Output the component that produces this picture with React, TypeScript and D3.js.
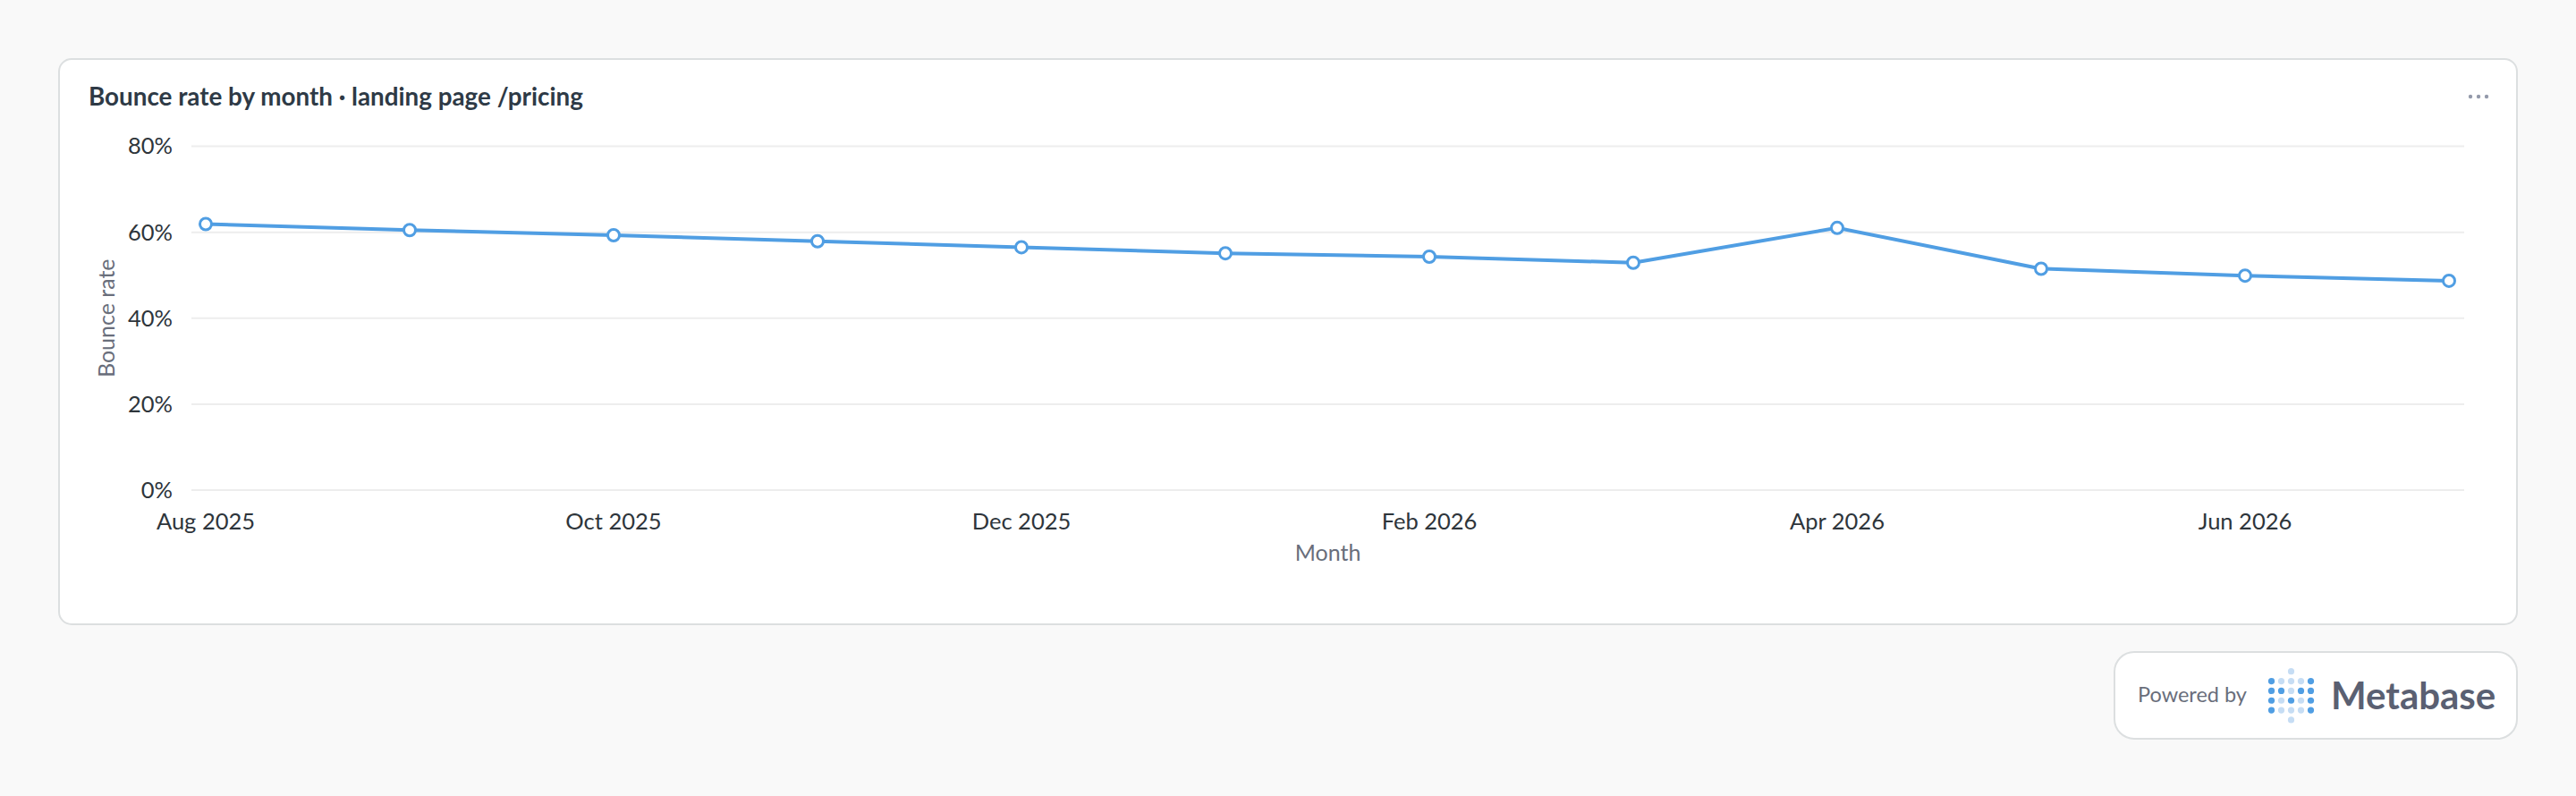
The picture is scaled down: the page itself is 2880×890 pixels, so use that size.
import React from 'react';
import * as d3 from 'd3';

// monthly bounce rate for the /pricing landing page
const months = [
  '2025-08', '2025-09', '2025-10', '2025-11', '2025-12', '2026-01',
  '2026-02', '2026-03', '2026-04', '2026-05', '2026-06', '2026-07',
];
const bounceRate = [0.619, 0.605, 0.593, 0.579, 0.565, 0.551, 0.543, 0.529, 0.61, 0.515, 0.499, 0.487];
const yTicks = [0, 0.2, 0.4, 0.6, 0.8];
const xTickMonths = ['2025-08', '2025-10', '2025-12', '2026-02', '2026-04', '2026-06'];

const title = 'Bounce rate by month · landing page /pricing';
const yLabel = 'Bounce rate';
const xLabel = 'Month';

const BLUE = '#509ee3';
const LIGHT_BLUE = '#c6ddf4';

// Metabase logo dot pattern: 1 = dark, 0 = light, -1 = empty
const logoDots = [
  [-1, -1, 0, -1, -1],
  [1, 0, 0, 0, 1],
  [1, 1, 0, 1, 1],
  [1, 0, 1, 0, 1],
  [1, 0, 0, 0, 1],
  [-1, -1, 0, -1, -1],
];

const parseMonth = d3.timeParse('%Y-%m');
const fmtMonth = d3.timeFormat('%b %Y');

export default function App() {
  const W = 2880;
  const H = 890;
  const plot = { left: 214, right: 2755, top: 163.5, bottom: 548 };

  const x = d3.scalePoint<string>().domain(months).range([230, 2738]);
  const y = d3.scaleLinear().domain([0, 0.8]).range([plot.bottom, plot.top]);
  const pct = d3.format('.0%');

  const line = d3.line<number>()
    .x((_, i) => x(months[i])!)
    .y(d => y(d));

  const font = 'Lato, "Noto Sans", sans-serif';

  return (
    <div style={{ position: 'absolute', left: 0, top: 0, width: W, height: H }}>
      <svg width={W} height={H} style={{ display: 'block', fontFamily: font }}>
        <rect x={0} y={0} width={W} height={H} fill="#f9f9f9" />

        {/* card */}
        <rect x={66} y={66} width={2748} height={632} rx={14} fill="#fff" stroke="#dcdfe0" strokeWidth={2} />
        <text x={99} y={118} fontSize={27.8} fontWeight={700} fill="#2e3a46">{title}</text>
        {[2762, 2771, 2780].map(cx => (
          <circle key={cx} cx={cx} cy={108} r={2.2} fill="#949aab" />
        ))}

        {/* grid + y ticks */}
        {yTicks.map(t => (
          <g key={t}>
            <line x1={plot.left} x2={plot.right} y1={y(t)} y2={y(t)} stroke="#ededed" strokeWidth={2} />
            <text x={193} y={y(t)} dy="0.35em" textAnchor="end" fontSize={25.5} fill="#2e353b">{pct(t)}</text>
          </g>
        ))}

        {/* x ticks */}
        {xTickMonths.map(m => (
          <text key={m} x={x(m)} y={592} textAnchor="middle" fontSize={25.5} fill="#2e353b">
            {fmtMonth(parseMonth(m)!)}
          </text>
        ))}

        {/* axis titles */}
        <text
          transform={`translate(128,${(plot.top + plot.bottom) / 2}) rotate(-90)`}
          textAnchor="middle" fontSize={25} fill="#696e7b"
        >{yLabel}</text>
        <text x={(plot.left + plot.right) / 2} y={627} textAnchor="middle" fontSize={25} fill="#696e7b">{xLabel}</text>

        {/* series */}
        <path d={line(bounceRate)!} fill="none" stroke={BLUE} strokeWidth={4} strokeLinejoin="round" />
        {bounceRate.map((v, i) => (
          <circle key={months[i]} cx={x(months[i])} cy={y(v)} r={6.5} fill="#fff" stroke={BLUE} strokeWidth={3} />
        ))}

        {/* powered by badge */}
        <rect x={2364} y={729} width={450} height={97} rx={22} fill="#fff" stroke="#dcdfe0" strokeWidth={2} />
        <text x={2390} y={785} fontSize={23.5} fill="#696e7b">Powered by</text>
        {logoDots.map((row, r) =>
          row.map((c, k) => c < 0 ? null : (
            <circle
              key={`${r}-${k}`}
              cx={2539.5 + k * 11}
              cy={750.7 + r * 10.85}
              r={3.6}
              fill={c === 1 ? BLUE : LIGHT_BLUE}
            />
          ))
        )}
        <text x={2606} y={793} fontSize={42} fontWeight={700} fill="#5a6072">Metabase</text>
      </svg>
    </div>
  );
}
